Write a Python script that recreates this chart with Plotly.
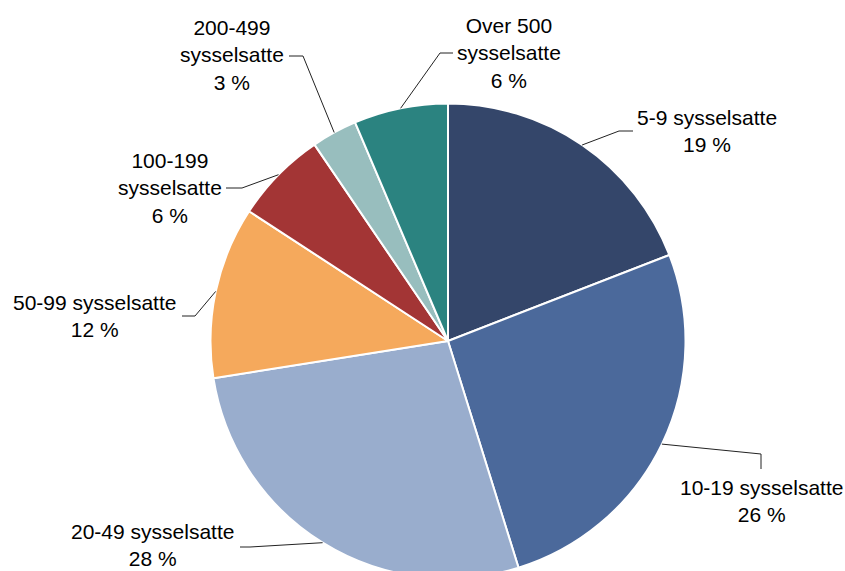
import math
import plotly.graph_objects as go

# ---- data ----
categories = ["5-9 sysselsatte", "10-19 sysselsatte", "20-49 sysselsatte",
              "50-99 sysselsatte", "100-199 sysselsatte", "200-499 sysselsatte",
              "Over 500 sysselsatte"]
shares = [19.1, 26.1, 27.3, 11.7, 6.3, 3.1, 6.4]
pct_labels = ["19 %", "26 %", "28 %", "12 %", "6 %", "3 %", "6 %"]
label_names = ["5-9 sysselsatte", "10-19 sysselsatte", "20-49 sysselsatte",
               "50-99 sysselsatte", "100-199<br>sysselsatte", "200-499<br>sysselsatte",
               "Over 500<br>sysselsatte"]
colors = ["#34466A", "#4B699B", "#99ADCD", "#F5A95C", "#A33535", "#98BEBE", "#2B8380"]

# ---- layout (pixels) ----
W, H = 845, 690
CX, CY, R = 448, 341, 237.5
# label centres and leader-line elbows / ends (pixel layout, Excel-like manual placement)
label_pos = [(707, 131), (761, 501), (152, 545), (94, 316), (170, 188), (232, 55), (509, 53)]
elbows = [(619, 131), (761, 454), (250, 547), (195, 316), (242, 188), (303, 56), (440, 53)]
ends = [(633, 131), (761, 469), (240, 547), (182, 316), (226, 188), (289, 56), (453, 53)]

fig = go.Figure()
fig.add_trace(go.Pie(
    labels=categories, values=shares, sort=False, direction="clockwise", rotation=0,
    marker=dict(colors=colors, line=dict(color="white", width=2)),
    textinfo="none", hoverinfo="label+percent", showlegend=False,
    domain=dict(x=[(CX - R) / W, (CX + R) / W], y=[(H - CY - R) / H, (H - CY + R) / H]),
))

total = sum(shares)
cum = 0.0
shapes = []
annotations = []
for i, v in enumerate(shares):
    mid = (cum + v / 2) / total * 2 * math.pi
    cum += v
    sx = CX + R * math.sin(mid)
    sy = CY - R * math.cos(mid)
    (ex, ey), (fx, fy) = elbows[i], ends[i]
    shapes.append(dict(type="path", xref="x", yref="y",
                       path=f"M {sx:.1f},{sy:.1f} L {ex},{ey} L {fx},{fy}",
                       line=dict(color="#222222", width=1)))
    lx, ly = label_pos[i]
    annotations.append(dict(x=lx, y=ly, xref="x", yref="y", showarrow=False,
                            text=f"{label_names[i]}<br>{pct_labels[i]}",
                            xanchor="center", yanchor="middle", align="center",
                            font=dict(family="Arial, Liberation Sans, sans-serif",
                                      size=21, color="#000000")))

fig.update_layout(
    width=W, height=H, margin=dict(l=0, r=0, t=0, b=0),
    paper_bgcolor="white", plot_bgcolor="white",
    xaxis=dict(range=[0, W], visible=False, fixedrange=True),
    yaxis=dict(range=[H, 0], visible=False, fixedrange=True),
    shapes=shapes, annotations=annotations,
)

fig.write_html("out.html", config={"displayModeBar": False},
               post_script="document.body.style.margin='0';"
                           "document.body.style.overflow='hidden';"
                           "document.documentElement.style.overflow='hidden';")
